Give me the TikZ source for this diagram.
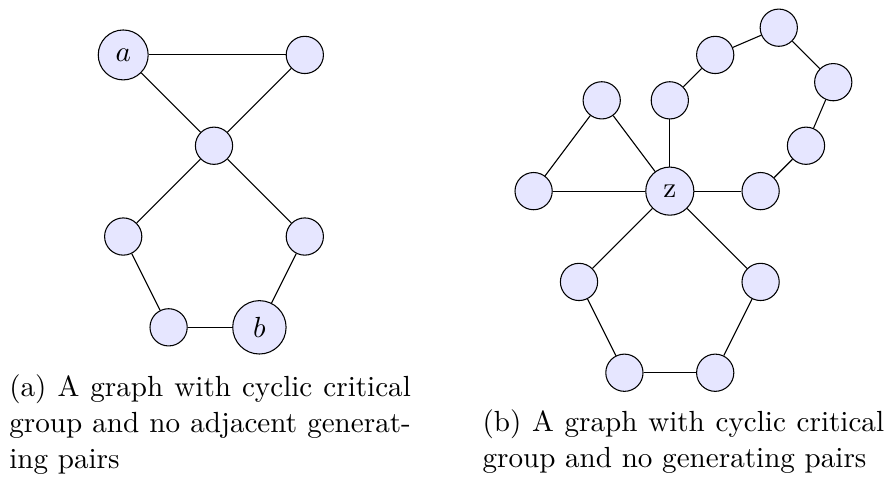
\documentclass[tikz,border=0pt]{standalone}
\usepackage{xcolor}
\usepackage{tikz}
\usetikzlibrary{positioning}
\definecolor{vFill}{HTML}{E6E6FF}
\definecolor{vLine}{HTML}{000000}

\begin{document}
\begin{tikzpicture}[x=1.2cm, y=1.2cm,
  vtx/.style={circle, draw=vLine, fill=vFill, minimum size=14pt, inner sep=4pt, font=\fontsize{10.95}{13.6}\selectfont},
  capt/.style={text width=151pt, align=justify, inner sep=0pt, anchor=base west, font=\fontsize{10.95}{13.6}\selectfont}]
  \useasboundingbox (-2.357,-3.649) rectangle (7.390,1.605);
  % (a)
  \foreach \n/\x/\y in {m/0/0, t/1/1, l/-1/-1, r/1/-1, c/-0.5/-2}
    {\node[vtx] (\n) at (\x,\y) {};}
  \node[vtx] (a) at (-1,1) {$a$};
  \node[vtx] (b) at (0.5,-2) {$b$};
  \foreach \u/\v in {a/t, a/m, t/m, m/l, m/r, l/c, c/b, b/r}
    {\draw (\u) -- (\v);}
  \node[capt] (capa) at (-2.26,-2.757) {(a) A graph with cyclic critical group and no adjacent generating pairs};
  % (b)
  \begin{scope}[shift={(5.02,-0.5)}]
    \node[vtx] (z) at (0,0) {z};
    \foreach \n/\x/\y in {zl/-1.5/0, zt/-0.75/1, zu/0/1, zr/1/0,
                          k1/1.5/0.5, k2/1.8/1.2, k3/1.2/1.8, k4/0.5/1.5,
                          p1/-1/-1, p2/1/-1, p3/-0.5/-2, p4/0.5/-2}
      {\node[vtx] (\n) at (\x,\y) {};}
  \end{scope}
  \foreach \u/\v in {z/zl, z/zt, zl/zt, z/zu, zu/k4, k4/k3, k3/k2, k2/k1, k1/zr, zr/z,
                     z/p1, z/p2, p1/p3, p3/p4, p4/p2}
    {\draw (\u) -- (\v);}
  \node[capt] (capb) at (2.952,-3.150) {(b) A graph with cyclic critical group and no generating pairs};
\end{tikzpicture}
\end{document}
